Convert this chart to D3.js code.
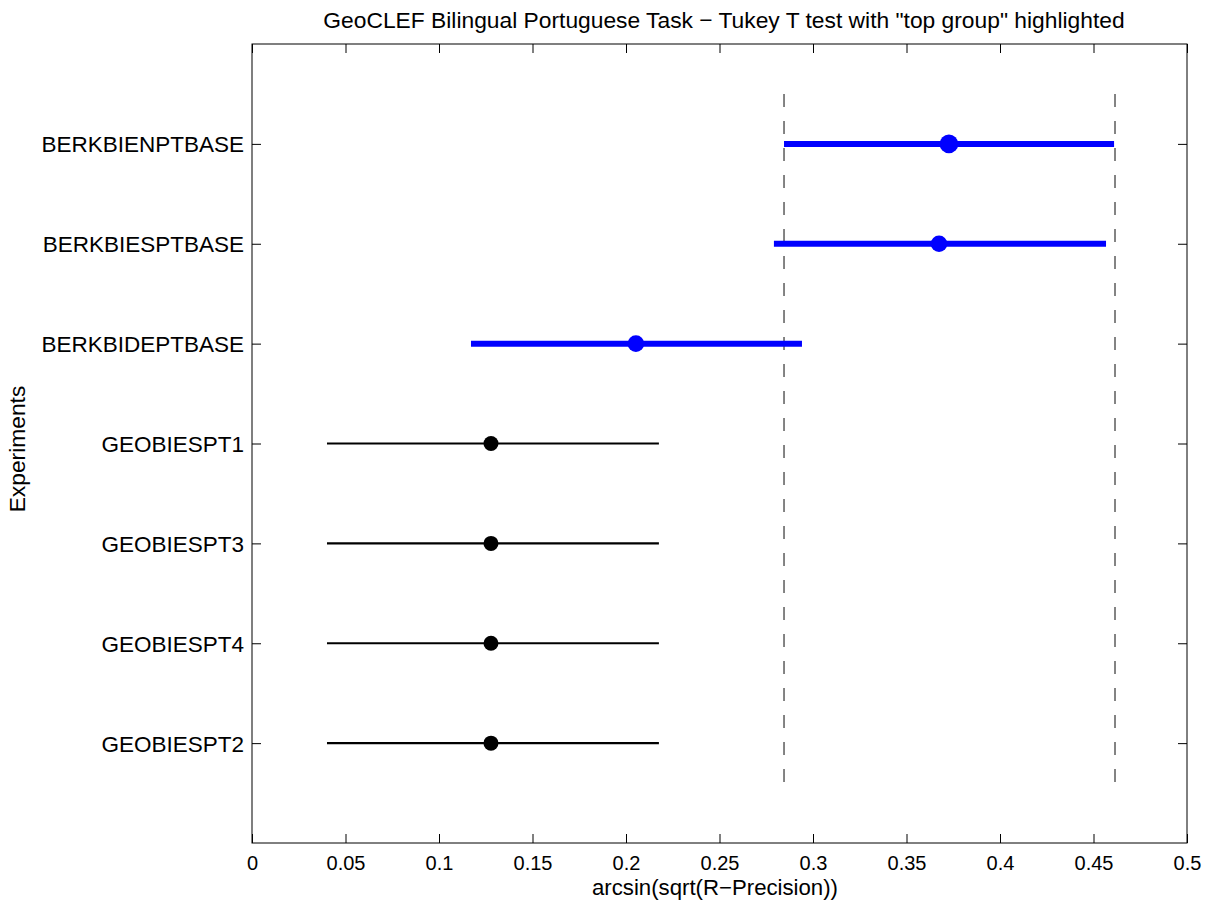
<!DOCTYPE html>
<html><head><meta charset="utf-8">
<script src="https://cdn.jsdelivr.net/npm/d3@7"></script>
<style>body{margin:0;background:#fff;}svg{display:block;font-family:"Liberation Sans",Arial,Helvetica,sans-serif;}</style>
</head><body><svg id="c" width="1211" height="908"></svg>
<script>
const experiments = ["BERKBIENPTBASE","BERKBIESPTBASE","BERKBIDEPTBASE","GEOBIESPT1","GEOBIESPT3","GEOBIESPT4","GEOBIESPT2"];
const means = [0.3727, 0.3674, 0.2053, 0.1278, 0.1278, 0.1278, 0.1278];
const lower = [0.2845, 0.2791, 0.1171, 0.0401, 0.0401, 0.0401, 0.0401];
const upper = [0.4610, 0.4567, 0.2941, 0.2176, 0.2176, 0.2176, 0.2176];
const highlighted = [true, true, true, false, false, false, false];
const selected = [true, false, false, false, false, false, false];
const groupBounds = [0.2845, 0.4615];
const xTicks = [0,0.05,0.1,0.15,0.2,0.25,0.3,0.35,0.4,0.45,0.5];
const xTickLabels = ["0","0.05","0.1","0.15","0.2","0.25","0.3","0.35","0.4","0.45","0.5"];

const svg = d3.select("#c");
const L=252, R=1187, T=44, B=843;
const x = d3.scaleLinear().domain([0,0.5]).range([L,R]);
const y = d3.scaleLinear().domain([0,8]).range([T,B]);
const yPos = experiments.map((d,i)=>i+1);

// box
svg.append("rect").attr("x",L).attr("y",T).attr("width",R-L).attr("height",B-T)
  .attr("fill","none").attr("stroke","#000").attr("stroke-width",1);

// axes
const fmt = d => xTickLabels[xTicks.indexOf(d)];
const xb = svg.append("g").attr("transform",`translate(0,${B})`)
  .call(d3.axisBottom(x).tickValues(xTicks).tickFormat(fmt).tickSize(-9).tickPadding(12.8));
const xt = svg.append("g").attr("transform",`translate(0,${T})`)
  .call(d3.axisTop(x).tickValues(xTicks).tickFormat("").tickSize(-9));
const yl = svg.append("g").attr("transform",`translate(${L},0)`)
  .call(d3.axisLeft(y).tickValues(yPos).tickFormat((d,i)=>experiments[i]).tickSize(-9).tickPadding(8));
const yr = svg.append("g").attr("transform",`translate(${R},0)`)
  .call(d3.axisRight(y).tickValues(yPos).tickFormat("").tickSize(-9));
[xb,xt,yl,yr].forEach(g=>{
  g.select(".domain").remove();
  g.selectAll("line").attr("stroke","#000");
  g.attr("font-family","'Liberation Sans',Arial,sans-serif");
  g.selectAll("text").attr("fill","#000");
});
xb.attr("font-size",20);
yl.attr("font-size",22.5);
yl.selectAll("text").attr("dy","0.36em");

// dashed group lines
svg.selectAll(".gb").data(groupBounds).enter().append("line")
  .attr("x1",d=>x(d)).attr("x2",d=>x(d)).attr("y1",y(0.5)).attr("y2",y(7.5))
  .attr("stroke","#333").attr("stroke-width",1.2).attr("stroke-dasharray","13,14");

// intervals
const data = experiments.map((e,i)=>({e,m:means[i],lo:lower[i],hi:upper[i],h:highlighted[i],s:selected[i],p:yPos[i]}));
svg.selectAll(".ci").data(data).enter().append("line")
  .attr("x1",d=>x(d.lo)).attr("x2",d=>x(d.hi)).attr("y1",d=>y(d.p)).attr("y2",d=>y(d.p))
  .attr("stroke",d=>d.h?"#0000ff":"#000").attr("stroke-width",d=>d.h?6:2.2);
svg.selectAll(".mn").data(data).enter().append("circle")
  .attr("cx",d=>x(d.m)).attr("cy",d=>y(d.p)).attr("r",d=>d.s?9.3:(d.h?8.3:7.5))
  .attr("fill",d=>d.h?"#0000ff":"#000");

// labels
svg.append("text").attr("x",724).attr("y",28).attr("text-anchor","middle").attr("font-size",22.8)
  .text("GeoCLEF Bilingual Portuguese Task \u2212 Tukey T test with \"top group\" highlighted");
svg.append("text").attr("x",715).attr("y",895).attr("text-anchor","middle").attr("font-size",22.2)
  .text("arcsin(sqrt(R\u2212Precision))");
svg.append("text").attr("transform","translate(25,449) rotate(-90)").attr("text-anchor","middle").attr("font-size",22.8)
  .text("Experiments");
</script></body></html>
